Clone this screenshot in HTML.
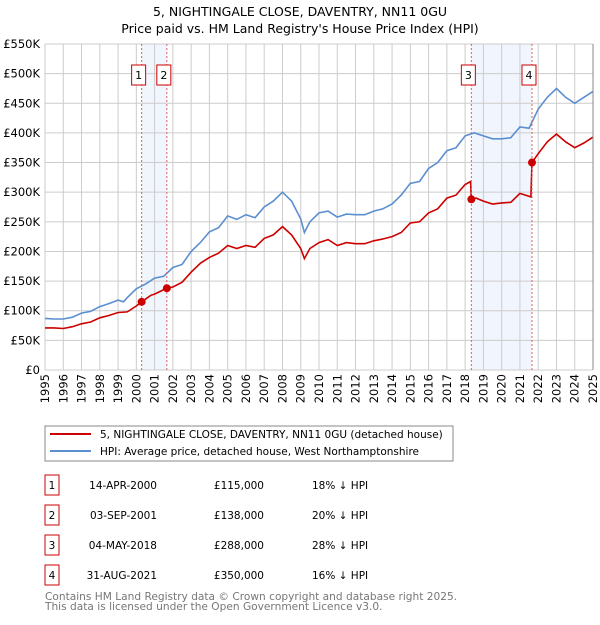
<!DOCTYPE html>
<html><head><meta charset="utf-8"><style>
body{margin:0;background:#fff;font-family:"Liberation Sans","DejaVu Sans",sans-serif;}
svg text{font-family:"DejaVu Sans","Liberation Sans",sans-serif;}
</style></head><body>
<svg id="c" width="600" height="620" xmlns="http://www.w3.org/2000/svg">
<text x="300" y="16" text-anchor="middle" font-size="12.5">5, NIGHTINGALE CLOSE, DAVENTRY, NN11 0GU</text>
<text x="300" y="33" text-anchor="middle" font-size="12.5">Price paid vs. HM Land Registry's House Price Index (HPI)</text>
<g id="shade"></g><g id="grid"></g><g id="lines"></g><g id="marks"></g><g id="axes"></g>
<g>
<rect x="45" y="426" width="408" height="35" fill="#fff" stroke="#888"/>
<line x1="50" y1="434" x2="91" y2="434" stroke="#cc0000" stroke-width="2"/>
<text x="100" y="438" font-size="10.5">5, NIGHTINGALE CLOSE, DAVENTRY, NN11 0GU (detached house)</text>
<line x1="50" y1="451" x2="91" y2="451" stroke="#5b8fd0" stroke-width="2"/>
<text x="100" y="455" font-size="10.5">HPI: Average price, detached house, West Northamptonshire</text>
</g>
<g id="table" font-size="10.5"></g>
<text x="45" y="600" font-size="10.6" fill="#777">Contains HM Land Registry data © Crown copyright and database right 2025.</text>
<text x="45" y="610" font-size="10.6" fill="#777">This data is licensed under the Open Government Licence v3.0.</text>
</svg>
<script>
const hpiYears=[1995,1995.5,1996,1996.5,1997,1997.5,1998,1998.5,1999,1999.3,1999.5,2000,2000.5,2001,2001.5,2002,2002.5,2003,2003.5,2004,2004.5,2005,2005.5,2006,2006.5,2007,2007.5,2008,2008.5,2009,2009.2,2009.5,2010,2010.5,2011,2011.5,2012,2012.5,2013,2013.5,2014,2014.5,2015,2015.5,2016,2016.5,2017,2017.5,2018,2018.5,2019,2019.5,2020,2020.5,2021,2021.5,2022,2022.5,2023,2023.5,2024,2024.5,2025];
const hpiValues=[87,86,86,89,96,99,107,112,118,115,122,137,145,155,158,173,178,200,215,233,240,260,254,262,257,275,285,300,285,255,232,250,265,268,258,263,262,262,268,272,280,295,315,318,340,350,370,375,395,400,395,390,390,392,410,408,440,460,475,460,450,460,470];
const priceYears=[1995,1995.5,1996,1996.5,1997,1997.5,1998,1998.5,1999,1999.5,2000,2000.29,2000.8,2001,2001.67,2002,2002.5,2003,2003.5,2004,2004.5,2005,2005.5,2006,2006.5,2007,2007.5,2008,2008.5,2009,2009.2,2009.5,2010,2010.5,2011,2011.5,2012,2012.5,2013,2013.5,2014,2014.5,2015,2015.5,2016,2016.5,2017,2017.5,2018,2018.3,2018.34,2018.6,2019,2019.5,2020,2020.5,2021,2021.6,2021.66,2022,2022.5,2023,2023.5,2024,2024.5,2025];
const priceValues=[71,71,70,73,78,81,88,92,97,98,108,115,126,128,138,140,148,165,180,190,197,210,205,210,207,222,228,242,228,205,188,205,215,220,210,215,213,213,218,221,225,232,248,250,265,272,290,295,313,318,288,290,285,280,282,283,298,292,350,365,385,398,385,375,383,393];
const saleYears=[2000.29,2001.67,2018.34,2021.66];
const saleValues=[115,138,288,350];
const saleLabels=["1","2","3","4"];
const saleDates=["14-APR-2000","03-SEP-2001","04-MAY-2018","31-AUG-2021"];
const salePrices=["£115,000","£138,000","£288,000","£350,000"];
const saleDiffs=["18% ↓ HPI","20% ↓ HPI","28% ↓ HPI","16% ↓ HPI"];
const yTicks=[0,50,100,150,200,250,300,350,400,450,500,550];
const yTickLabels=["£0","£50K","£100K","£150K","£200K","£250K","£300K","£350K","£400K","£450K","£500K","£550K"];
const X0=45,X1=593,Y0=370,Y1=44;
const xs=y=>X0+(y-1995)/30*(X1-X0);
const ys=v=>Y0-v/550*(Y0-Y1);
const NS="http://www.w3.org/2000/svg";
function mk(p,t,a){const e=document.createElementNS(NS,t);for(const k in a)e.setAttribute(k,a[k]);document.getElementById(p).appendChild(e);return e;}
for(let i=0;i<yTicks.length;i++){
 const g=mk('grid','line',{x1:X0,x2:X1,y1:ys(yTicks[i]),y2:ys(yTicks[i]),stroke:'#ccc'});
 
 
 const t=mk('axes','text',{x:40,y:ys(yTicks[i])+4,'text-anchor':'end','font-size':'11.5'});
 t.textContent=yTickLabels[i];
 
 
}
for(let yr=1995;yr<=2025;yr++){
 const g=mk('grid','line',{x1:xs(yr),x2:xs(yr),y1:Y1,y2:Y0,stroke:'#ccc'});
 
 
 const t=mk('axes','text',{transform:`translate(${xs(yr)+4},${Y0+4}) rotate(-90)`,'text-anchor':'end','font-size':'11.5'});
 t.textContent=yr;
 
 
}
const bd=mk('axes','line',{x1:X1,x2:X1,y1:Y1,y2:Y0,stroke:'#888'});


const spans=[[0,1],[2,3]];
spans.forEach(s=>{const r=mk('shade','rect',{x:xs(saleYears[s[0]]),y:Y1,width:xs(saleYears[s[1]])-xs(saleYears[s[0]]),height:Y0-Y1,fill:'#f1f5fd'});
 
 });
const pts=(X,V)=>X.map((x,i)=>xs(x).toFixed(1)+','+ys(V[i]).toFixed(1)).join(' ');
const h=mk('lines','polyline',{points:pts(hpiYears,hpiValues),fill:'none',stroke:'#5b8fd0','stroke-width':1.6});


const p=mk('lines','polyline',{points:pts(priceYears,priceValues),fill:'none',stroke:'#cc0000','stroke-width':1.6});


for(let i=0;i<saleYears.length;i++){
 const x=xs(saleYears[i]);
 const l=mk('marks','line',{x1:x,x2:x,y1:Y1,y2:Y0,stroke:'#e06060','stroke-dasharray':'2,2'});
 
 
 const c=mk('marks','circle',{cx:x,cy:ys(saleValues[i]),r:4,fill:'#cc0000'});
 
 
 const bx=x-10;
 const b=mk('marks','rect',{x:bx,y:65,width:14,height:20,fill:'#fff',stroke:'#cc0000'});
 
 
 const t=mk('marks','text',{x:bx+7,y:79,'text-anchor':'middle','font-size':'11'});
 t.textContent=saleLabels[i];
 
 
 const ry=475+i*30;
 const tb=mk('table','rect',{x:45,y:ry,width:14,height:20,fill:'#fff',stroke:'#cc0000'});
 
 
 const tn=mk('table','text',{x:52,y:ry+14,'text-anchor':'middle'});tn.textContent=saleLabels[i];
 
 
 const td=mk('table','text',{x:157,y:ry+14,'text-anchor':'end'});td.textContent=saleDates[i];
 
 
 const tp=mk('table','text',{x:264,y:ry+14,'text-anchor':'end'});tp.textContent=salePrices[i];
 
 
 const tf=mk('table','text',{x:312,y:ry+14});tf.textContent=saleDiffs[i];
 
 
}
</script>
</body></html>
